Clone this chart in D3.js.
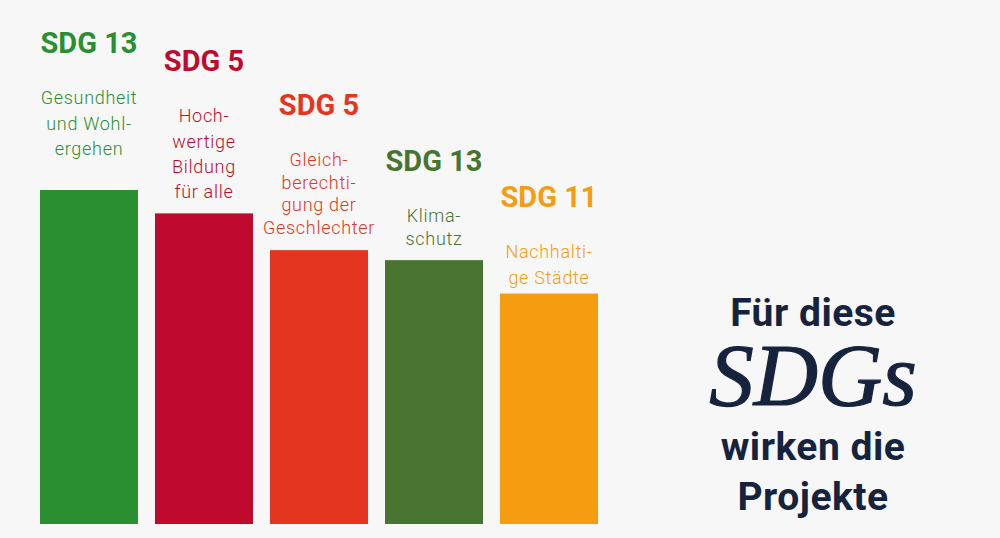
<!DOCTYPE html>
<html>
<head>
<meta charset="utf-8">
<script src="https://cdn.jsdelivr.net/npm/d3@7"></script>
<style>
  body { margin: 0; background: #f7f7f7; }
  svg { display: block; }
</style>
</head>
<body>
<svg id="chart"></svg>
<script>
// data
const categories = ["Gesundheit", "Bildung", "Gleichberechtigung", "Klimaschutz", "Städte"];
const values = [100, 93, 82, 79, 69];
const goals = ["SDG 13", "SDG 5", "SDG 5", "SDG 13", "SDG 11"];
const labels = [
  ["Gesundheit", "und Wohl-", "ergehen"],
  ["Hoch-", "wertige", "Bildung", "für alle"],
  ["Gleich-", "berechti-", "gung der", "Geschlechter"],
  ["Klima-", "schutz"],
  ["Nachhalti-", "ge Städte"]
];
const colors = ["#2a8f31", "#c00a2d", "#e43521", "#477431", "#f59c10"];

// layout
const width = 1000;
const height = 538;
const titleOffset = [137, 142, 135, 89, 87];
const lineH = [25.5, 25.3, 22.5, 23.3, 26];

const svg = d3.select("#chart").attr("width", width).attr("height", height);
svg.append("rect").attr("width", width).attr("height", height).attr("fill", "#f7f7f7");

const x = d3.scaleBand().domain(categories).range([40, 598]).paddingInner(0.148);
const y = d3.scaleLinear().domain([0, 100]).range([524, 190]);

const g = svg.selectAll(".bar").data(categories).join("g").attr("class", "bar");

g.append("rect")
  .attr("x", d => x(d))
  .attr("y", (d, i) => y(values[i]))
  .attr("width", x.bandwidth())
  .attr("height", (d, i) => y(0) - y(values[i]))
  .attr("fill", (d, i) => colors[i]);

g.append("text")
  .attr("x", d => x(d) + x.bandwidth() / 2)
  .attr("y", (d, i) => y(values[i]) - titleOffset[i])
  .attr("text-anchor", "middle")
  .attr("font-family", "Roboto")
  .attr("font-weight", "bold")
  .attr("font-size", 29)
  .attr("fill", (d, i) => colors[i])
  .text((d, i) => goals[i]);

g.each(function (d, i) {
  const t = d3.select(this).append("text")
    .attr("text-anchor", "middle")
    .attr("font-family", "Roboto")
    .attr("font-weight", 300)
    .attr("font-size", 18)
    .attr("letter-spacing", 0.7)
    .attr("fill", colors[i]);
  const y0 = y(values[i]) - titleOffset[i] + 51;
  labels[i].forEach((line, k) => {
    t.append("tspan")
      .attr("x", x(d) + x.bandwidth() / 2)
      .attr("y", y0 + k * lineH[i])
      .text(line);
  });
});

// headline at the right
const navy = "#16233d";
const cx = 813;
svg.append("text").attr("x", cx).attr("y", 326).attr("text-anchor", "middle")
  .attr("font-family", "Roboto").attr("font-weight", "bold").attr("font-size", 39)
  .attr("letter-spacing", 0.5).attr("fill", navy).text("Für diese");
svg.append("text").attr("x", cx).attr("y", 405).attr("text-anchor", "middle")
  .attr("font-family", "Liberation Serif").attr("font-style", "italic").attr("font-size", 89)
  .attr("stroke", navy).attr("stroke-width", 1.2)
  .attr("fill", navy).text("SDGs");
svg.append("text").attr("x", cx).attr("y", 460).attr("text-anchor", "middle")
  .attr("font-family", "Roboto").attr("font-weight", "bold").attr("font-size", 39)
  .attr("letter-spacing", 0.5).attr("fill", navy).text("wirken die");
svg.append("text").attr("x", cx).attr("y", 510).attr("text-anchor", "middle")
  .attr("font-family", "Roboto").attr("font-weight", "bold").attr("font-size", 39)
  .attr("letter-spacing", 0.5).attr("fill", navy).text("Projekte");
</script>
</body>
</html>
